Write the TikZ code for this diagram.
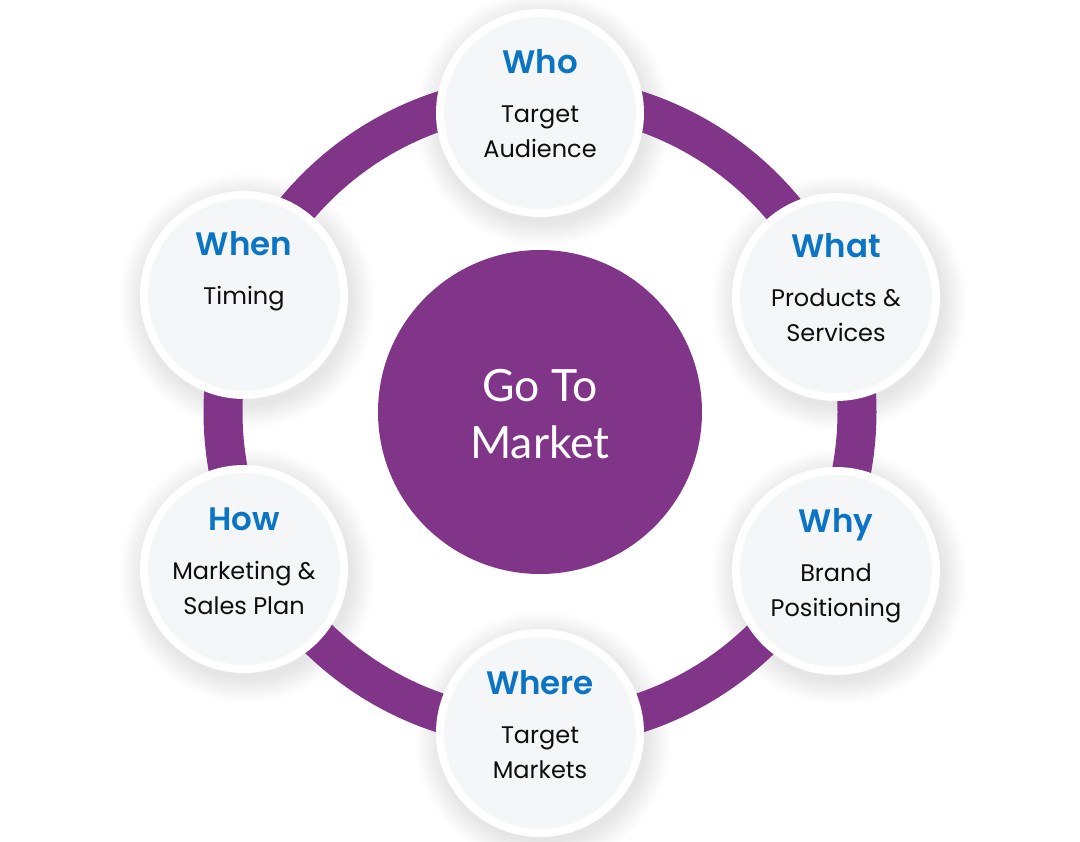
\documentclass[tikz,border=0pt]{standalone}
\usepackage{fontspec}
\setmainfont{Poppins}
\newfontfamily\titlefont{Poppins SemiBold}
\newfontfamily\latofont{Lato}
\definecolor{gtmpurple}{HTML}{813588}
\definecolor{gtmblue}{HTML}{0B74C4}
\definecolor{gtmfill}{HTML}{F5F6F8}
\definecolor{gtmtext}{HTML}{0E0E0E}
\tikzset{
  smallcirc/.style={circle, fill=gtmfill, draw=white, line width=8pt, minimum size=200pt, inner sep=0pt},
  bigcirc/.style={circle, fill=gtmpurple, minimum size=324pt, inner sep=0pt},
  titletext/.style={anchor=base, text=gtmblue, font=\titlefont\fontsize{32.5}{40}\selectfont, inner sep=0pt},
  bodytext/.style={anchor=base, text=gtmtext, font=\fontsize{24}{30}\selectfont, inner sep=0pt},
  centertext/.style={anchor=base, text=white, font=\latofont\fontsize{44.5}{50}\selectfont, inner sep=0pt},
  ringline/.style={draw=gtmpurple, line width=39pt}
}
\begin{document}
\begin{tikzpicture}[x=1pt,y=-1pt]
\useasboundingbox (0,0) rectangle (1080,842);
\fill[white] (0,0) rectangle (1080,842);
% shadows
\foreach \x/\y in {540/113, 836/297, 836/571, 540/733, 244/569, 244/295}{
  \foreach \r in {0,...,24}{
    \fill[black, opacity=0.004] (\x+3,\y+6) circle[radius={(104+\r)*1pt}];
  }
}
% ring
\draw[ringline] (540,412) circle[radius=317pt];
% satellite circles and labels
\foreach \n/\x/\y/\t/\a/\b in {
  who/540/113/Who/Target/Audience,
  what/836/297/What/Products \&/Services,
  why/836/571/Why/Brand/Positioning,
  where/540/733/Where/Target/Markets,
  how/244/569/How/Marketing \&/Sales Plan,
  when/244/295/When/Timing/{}}{
  \node[smallcirc] (\n) at (\x,\y) {};
  \node[titletext] (\n-t) at (\x,\y-39) {\t};
  \node[bodytext] (\n-a) at (\x,\y+10) {\a};
  \node[bodytext] (\n-b) at (\x,\y+45) {\b};
}
% centre
\node[bigcirc] (gtm) at (540,412) {};
\node[centertext] (gtm-a) at (540,402) {Go To};
\node[centertext] (gtm-b) at (540,458) {Market};
\end{tikzpicture}
\end{document}
